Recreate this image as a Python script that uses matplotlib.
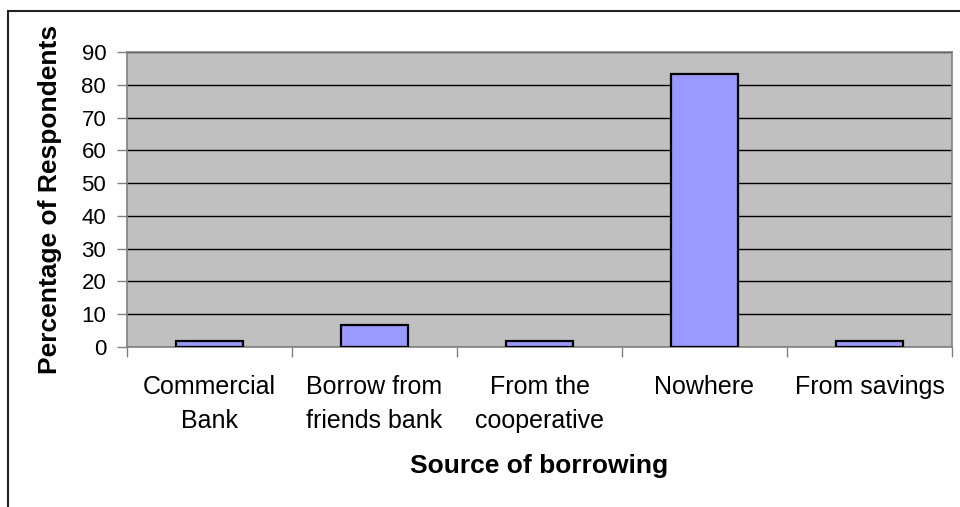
import matplotlib.pyplot as plt
import matplotlib.patches as patches
import numpy as np

plt.rcParams['font.family'] = ['Liberation Sans', 'DejaVu Sans']

# share of respondents by source of borrowing
sources = ["Commercial\nBank", "Borrow from\nfriends bank", "From the\ncooperative",
           "Nowhere", "From savings"]
percent = [1.7, 6.7, 1.7, 83.3, 1.7]
y_ticks = [0, 10, 20, 30, 40, 50, 60, 70, 80, 90]

W, H = 960, 507
fig = plt.figure(figsize=(W / 100, H / 100), dpi=100)

# outer chart frame, open to the right and bottom
frame = patches.Rectangle((7.5 / W, -0.1), 1.2, 1 - 11 / H + 0.1,
                          transform=fig.transFigure, fill=False,
                          edgecolor="#222222", linewidth=1.5)
fig.patches.append(frame)

ax = fig.add_axes([127 / W, 1 - 347 / H, (952 - 127) / W, (347 - 52) / H])
ax.set_facecolor("#C0C0C0")

index = np.arange(len(sources))
ax.bar(index, percent, 0.41, color="#9999FF", edgecolor="black", linewidth=1.6, zorder=3)

ax.set_xlim(-0.5, len(sources) - 0.5)
ax.set_ylim(0, 90)
ax.set_yticks(y_ticks)
ax.tick_params(axis="y", labelsize=16, length=7, width=1, direction="out",
               pad=8, color="#808080")
ax.yaxis.grid(True, color="black", linewidth=1, zorder=1)
ax.set_axisbelow(True)

# category labels sit between the boundary ticks
ax.set_xticks(np.arange(-0.5, len(sources), 1))
ax.set_xticklabels([])
ax.set_xticks(index, minor=True)
ax.set_xticklabels(sources, minor=True, fontsize=18, linespacing=1.55)
ax.tick_params(axis="x", which="major", length=7, width=1, direction="out", color="#808080")
ax.tick_params(axis="x", which="minor", length=0, pad=20)

for side in ax.spines:
    ax.spines[side].set_color("#808080")
    ax.spines[side].set_linewidth(1.2)

ax.set_ylabel("Percentage of Respondents", fontsize=19, fontweight="bold", labelpad=14)
ax.set_xlabel("Source of borrowing", fontsize=19, fontweight="bold", labelpad=15)

fig.savefig("out.png", dpi=100)
